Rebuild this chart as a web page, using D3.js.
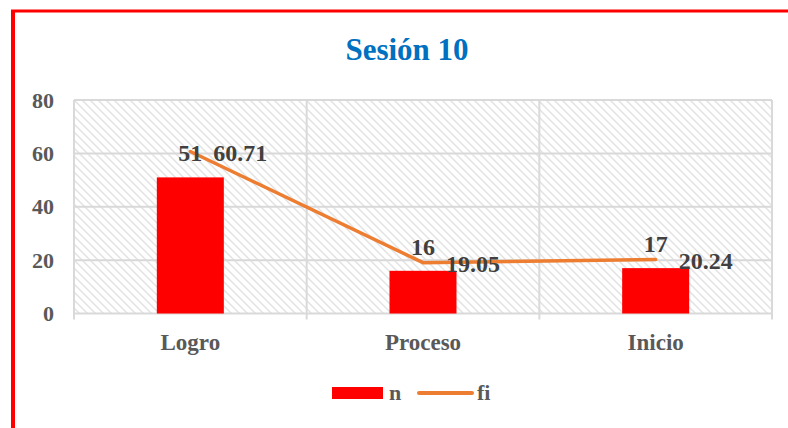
<!DOCTYPE html>
<html>
<head>
<meta charset="utf-8">
<script src="https://cdn.jsdelivr.net/npm/d3@7"></script>
<style>
  body { margin: 0; background: #fff; }
  svg { display: block; font-family: 'Liberation Serif', 'Times New Roman', serif; font-weight: bold; }
</style>
</head>
<body>
<div id="chart"></div>
<script>
// chart data
const categories = ['Logro', 'Proceso', 'Inicio'];
const nValues = [51, 16, 17];
const fiValues = [60.71, 19.05, 20.24];
const yTicks = [0, 20, 40, 60, 80];

const width = 788;
const height = 428;
const margin = { top: 100, right: 16, bottom: 114.5, left: 74 };
const plotW = width - margin.left - margin.right;
const plotH = height - margin.top - margin.bottom;

const svg = d3.select('#chart').append('svg')
  .attr('width', width)
  .attr('height', height);

// hatch pattern for plot background
const defs = svg.append('defs');
const pat = defs.append('pattern')
  .attr('id', 'hatch')
  .attr('patternUnits', 'userSpaceOnUse')
  .attr('width', 8)
  .attr('height', 8);
pat.append('path')
  .attr('d', 'M-1,-1 L9,9 M-1,7 L1,9 M7,-1 L9,1')
  .attr('stroke', '#e2e2e2')
  .attr('stroke-width', 1.5);

// frame (red border, cut off on right and bottom)
svg.append('line')
  .attr('x1', 11).attr('x2', width)
  .attr('y1', 11).attr('y2', 11)
  .attr('stroke', '#ff0000').attr('stroke-width', 3);
svg.append('line')
  .attr('x1', 13).attr('x2', 13)
  .attr('y1', 10).attr('y2', height)
  .attr('stroke', '#ff0000').attr('stroke-width', 4);

// title
svg.append('text')
  .attr('x', 407).attr('y', 60)
  .attr('text-anchor', 'middle')
  .attr('fill', '#0070c0')
  .attr('font-size', 31)
  .text('Sesión 10');

// scales
const x = d3.scaleBand().domain(categories).range([0, plotW]).padding(0);
const y = d3.scaleLinear().domain([0, 80]).range([plotH, 0]);

const g = svg.append('g')
  .attr('transform', `translate(${margin.left},${margin.top})`);

g.append('rect')
  .attr('width', plotW).attr('height', plotH)
  .attr('fill', 'url(#hatch)');

// horizontal gridlines
g.selectAll('.hgrid')
  .data(yTicks)
  .enter().append('line')
  .attr('class', 'hgrid')
  .attr('x1', 0).attr('x2', plotW)
  .attr('y1', (d) => y(d)).attr('y2', (d) => y(d))
  .attr('stroke', '#d9d9d9').attr('stroke-width', 2);

// vertical category separators (extend below the axis as ticks)
const seps = [0].concat(categories.map((c) => x(c) + x.bandwidth()));
g.selectAll('.vgrid')
  .data(seps)
  .enter().append('line')
  .attr('class', 'vgrid')
  .attr('x1', (d) => d).attr('x2', (d) => d)
  .attr('y1', 0).attr('y2', plotH + 6)
  .attr('stroke', '#d9d9d9').attr('stroke-width', 2);

// y axis labels
const yAxis = d3.axisLeft(y).tickValues(yTicks).tickSize(0).tickPadding(20);
const ya = g.append('g').call(yAxis);
ya.select('.domain').remove();
ya.selectAll('text')
  .attr('font-family', 'Liberation Serif, serif')
  .attr('font-size', 22)
  .attr('fill', '#595959');

// x axis labels
const xAxis = d3.axisBottom(x).tickSize(0).tickPadding(20);
const xa = g.append('g').attr('transform', `translate(0,${plotH})`).call(xAxis);
xa.select('.domain').remove();
xa.selectAll('text')
  .attr('font-family', 'Liberation Serif, serif')
  .attr('font-size', 23)
  .attr('fill', '#595959');

// bars
const barW = x.bandwidth() * 0.288;
const cx = (c) => x(c) + x.bandwidth() / 2;
g.selectAll('.bar')
  .data(categories)
  .enter().append('rect')
  .attr('class', 'bar')
  .attr('x', (c) => cx(c) - barW / 2)
  .attr('y', (c, i) => y(nValues[i]))
  .attr('width', barW)
  .attr('height', (c, i) => plotH - y(nValues[i]))
  .attr('fill', '#ff0000');

// line
const line = d3.line()
  .x((d, i) => cx(categories[i]))
  .y((d) => y(d));
g.append('path')
  .datum(fiValues)
  .attr('d', line)
  .attr('fill', 'none')
  .attr('stroke', '#ed7d31')
  .attr('stroke-width', 3.5)
  .attr('stroke-linecap', 'round')
  .attr('stroke-linejoin', 'round');

// bar labels
g.selectAll('.nlab')
  .data(categories)
  .enter().append('text')
  .attr('class', 'nlab')
  .attr('x', (c) => cx(c))
  .attr('y', (c, i) => y(nValues[i]) - 16)
  .attr('text-anchor', 'middle')
  .attr('font-size', 24)
  .attr('fill', '#404040')
  .text((c, i) => nValues[i]);

// line labels
g.selectAll('.filab')
  .data(categories)
  .enter().append('text')
  .attr('class', 'filab')
  .attr('x', (c) => cx(c) + 23)
  .attr('y', (c, i) => y(fiValues[i]) + 9.5)
  .attr('font-size', 24)
  .attr('fill', '#404040')
  .text((c, i) => fiValues[i].toFixed(2));

// legend
const leg = svg.append('g');
leg.append('rect')
  .attr('x', 332).attr('y', 387)
  .attr('width', 51).attr('height', 12)
  .attr('fill', '#ff0000');
leg.append('text')
  .attr('x', 389).attr('y', 400)
  .attr('font-size', 22)
  .attr('fill', '#595959')
  .text('n');
leg.append('line')
  .attr('x1', 419).attr('x2', 472)
  .attr('y1', 393).attr('y2', 393)
  .attr('stroke', '#ed7d31')
  .attr('stroke-width', 4)
  .attr('stroke-linecap', 'round');
leg.append('text')
  .attr('x', 477).attr('y', 400)
  .attr('font-size', 22)
  .attr('fill', '#595959')
  .text('fi');
</script>
</body>
</html>
